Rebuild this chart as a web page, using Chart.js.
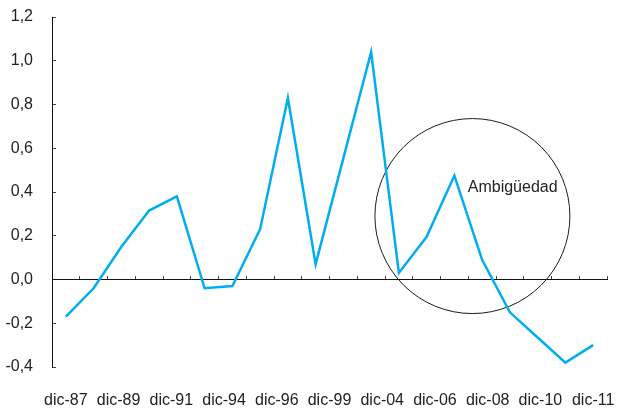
<!DOCTYPE html>
<html>
<head>
<meta charset="utf-8">
<script src="https://cdn.jsdelivr.net/npm/chart.js@4"></script>
<style>
  html, body { margin: 0; padding: 0; background: #fff; }
  #wrap { width: 617px; height: 411px; position: relative; }
</style>
</head>
<body>
<div id="wrap"><canvas id="c" width="617" height="411"></canvas></div>
<script>
// ---- data ----
const xLabels = ['dic-87','dic-89','dic-91','dic-94','dic-96','dic-99','dic-04','dic-06','dic-08','dic-10','dic-11'];
const seriesValues = [-0.17, -0.04, 0.15, 0.315, 0.38, -0.04, -0.03, 0.23, 0.83, 0.07,
                      0.555, 1.04, 0.03, 0.195, 0.475, 0.09, -0.15, -0.265, -0.38, -0.30];
const yTicks = [-0.4, -0.2, 0.0, 0.2, 0.4, 0.6, 0.8, 1.0, 1.2];
const circleCenter = [14.65, 0.29];     // [point index, value]
const annotationText = ['Ambigüedad'];
const annotationAt = [16.1, 0.42];       // [point index, value]

const nPoints = seriesValues.length;
const lineData = seriesValues.map((v, i) => ({ x: i, y: v }));

const FONT = "'Liberation Sans', Arial, Helvetica, sans-serif";

const noPad = s => { s.paddingTop = 0; s.paddingBottom = 0; s.paddingLeft = 0; s.paddingRight = 0; };

const annotationPlugin = {
  id: 'annot',
  afterDatasetsDraw(chart) {
    const { ctx, scales } = chart;
    const px = scales.x.getPixelForValue(annotationAt[0]);
    const py = scales.y.getPixelForValue(annotationAt[1]);
    ctx.save();
    ctx.font = '16px ' + FONT;
    ctx.fillStyle = '#222';
    ctx.textAlign = 'center';
    ctx.textBaseline = 'middle';
    ctx.fillText(annotationText[0], px, py);
    ctx.restore();
  }
};

new Chart(document.getElementById('c'), {
  type: 'line',
  data: {
    datasets: [
      {
        type: 'line',
        data: lineData,
        borderColor: '#00AEEF',
        borderWidth: 2.5,
        pointRadius: 0,
        pointHoverRadius: 0,
        tension: 0,
        fill: false,
        clip: false,
        xAxisID: 'x',
        yAxisID: 'y'
      },
      {
        type: 'scatter',
        data: [{ x: circleCenter[0], y: circleCenter[1] }],
        pointRadius: 97.5,
        pointHoverRadius: 97.5,
        pointBackgroundColor: 'rgba(0,0,0,0)',
        pointBorderColor: '#1a1a1a',
        pointBorderWidth: 1,
        clip: false,
        xAxisID: 'x',
        yAxisID: 'y'
      }
    ]
  },
  options: {
    responsive: false,
    animation: false,
    events: [],
    layout: { autoPadding: false, padding: { top: 17, right: 10, left: 0, bottom: 0 } },
    plugins: { legend: { display: false }, tooltip: { enabled: false } },
    scales: {
      x: {
        type: 'linear',
        position: { y: 0 },
        min: -0.5,
        max: nPoints - 0.5,
        ticks: { display: false, stepSize: 1 },
        afterBuildTicks: s => {
          const t = [];
          for (let i = 0; i <= nPoints; i++) t.push({ value: i - 0.5 });
          s.ticks = t;
        },
        afterFit: noPad,
        grid: { drawOnChartArea: false, drawTicks: true, tickLength: -4, color: '#444', lineWidth: 1 },
        border: { display: true, color: '#111', width: 1 }
      },
      x2: {
        type: 'linear',
        axis: 'x',
        position: 'bottom',
        min: -0.5 / 1.9,
        max: (nPoints - 0.5) / 1.9,
        afterBuildTicks: s => { s.ticks = xLabels.map((_, i) => ({ value: i })); },
        afterFit: s => { s.height = 44; noPad(s); },
        ticks: {
          autoSkip: false,
          maxRotation: 0,
          padding: 24,
          color: '#222',
          font: { family: FONT, size: 16 },
          callback: v => xLabels[Math.round(v)]
        },
        grid: { display: false, drawTicks: false },
        border: { display: false }
      },
      y: {
        type: 'linear',
        position: 'left',
        min: -0.4,
        max: 1.2,
        afterBuildTicks: s => { s.ticks = yTicks.map(v => ({ value: v })); },
        afterFit: s => { s.width = 52; noPad(s); },
        ticks: {
          padding: 23,
          color: '#222',
          font: { family: FONT, size: 16 },
          callback: v => v.toFixed(1).replace('.', ',')
        },
        grid: { drawOnChartArea: false, drawTicks: true, tickLength: -4, color: '#444', lineWidth: 1 },
        border: { display: true, color: '#111', width: 1 }
      }
    }
  },
  plugins: [annotationPlugin]
});
</script>
</body>
</html>
